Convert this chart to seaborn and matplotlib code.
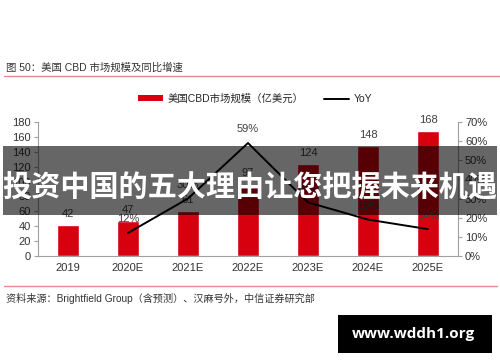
import numpy as np
import pandas as pd
import matplotlib
matplotlib.use("Agg")
import matplotlib.pyplot as plt
from matplotlib.patches import Patch, Rectangle
from matplotlib.lines import Line2D
import seaborn as sns

# data
years = ["2019", "2020E", "2021E", "2022E", "2023E", "2024E", "2025E"]
market_size = [42, 47, 61, 97, 124, 148, 168]        # 亿美元
yoy_years = ["2020E", "2021E", "2022E", "2023E", "2024E", "2025E"]
yoy = [0.12, 0.30, 0.59, 0.28, 0.19, 0.14]

title = "图 50：美国 CBD 市场规模及同比增速"
bar_name = "美国CBD市场规模（亿美元）"
line_name = "YoY"
source = "资料来源：Brightfield Group（含预测）、汉麻号外，中信证券研究部"
banner = "投资中国的五大理由让您把握未来机遇"
watermark = "www.wddh1.org"

sns.set_style("white")
plt.rcParams["font.family"] = ["Liberation Sans", "Noto Sans CJK SC", "DejaVu Sans"]

RED = "#D7000F"
GRAY = "#333333"
SPINE = "#A0A0A0"

df = pd.DataFrame({"year": years, "size": market_size})
df_yoy = pd.DataFrame({"year": yoy_years, "yoy": yoy})
df_yoy["pos"] = [years.index(y) for y in yoy_years]

fig = plt.figure(figsize=(5, 3.62), dpi=100)
ax = fig.add_axes([0.076, 0.293, 0.84, 0.370])

sns.barplot(data=df, x="year", y="size", color=RED, width=0.38,
            saturation=1, ax=ax)
ax.set_ylim(0, 180)
ax.set_yticks(np.arange(0, 181, 20))
ax.set_xlim(-0.5, len(years) - 0.5)
ax.set_xlabel("")
ax.set_ylabel("")
for i, v in enumerate(market_size):
    ax.text(i, v + 8, str(v), ha="center", va="bottom", fontsize=8, color="#404040")

ax2 = ax.twinx()
sns.lineplot(data=df_yoy, x="pos", y="yoy", color="black", linewidth=1.4, ax=ax2)
ax2.set_ylim(0, 0.7)
ax2.set_yticks(np.arange(0, 0.71, 0.1))
ax2.set_yticklabels([f"{int(round(t * 100))}%" for t in np.arange(0, 0.71, 0.1)])
ax2.set_ylabel("")
ax2.set_xlabel("")
ax2.set_xlim(-0.5, len(years) - 0.5)
for p, v in zip(df_yoy["pos"], yoy):
    ax2.text(p, v + 0.045, f"{int(round(v * 100))}%", ha="center", va="bottom",
             fontsize=8, color="#404040")

for a in (ax, ax2):
    a.spines["top"].set_visible(False)
    for s in ("left", "right", "bottom"):
        a.spines[s].set_color(SPINE)
        a.spines[s].set_linewidth(0.8)
ax.spines["right"].set_visible(False)
ax2.spines["left"].set_visible(False)
ax2.spines["bottom"].set_visible(False)

ax.set_xticks(np.arange(-0.5, len(years), 1), minor=True)
ax.tick_params(axis="x", which="major", length=0, labelsize=8, labelcolor=GRAY, pad=5)
ax.tick_params(axis="x", which="minor", length=3, color=SPINE, direction="out")
ax.tick_params(axis="y", length=3, color=SPINE, direction="out", labelsize=8,
               labelcolor=GRAY, left=True, pad=2)
ax2.tick_params(axis="y", length=3, color=SPINE, direction="out", labelsize=8,
                labelcolor=GRAY, right=True, pad=2)

handles = [Patch(facecolor=RED, edgecolor="none"),
           Line2D([], [], color="black", linewidth=1.4)]
fig.legend(handles, [bar_name, line_name], loc="center", ncol=2,
           bbox_to_anchor=(0.51, 0.727), frameon=False, fontsize=7.5,
           handlelength=2.4, handleheight=0.55, columnspacing=2.0, handletextpad=0.4)

# header / footer
fig.text(0.012, 1 - 68 / 362, title, fontsize=7.5, color=GRAY, va="center", ha="left")
fig.add_artist(Line2D([0.008, 1.0], [1 - 76 / 362] * 2, color="#E8898E", linewidth=1.0))
fig.add_artist(Line2D([0.008, 0.994], [1 - 286 / 362] * 2, color="#E8898E", linewidth=1.0))
fig.text(0.012, 1 - 298 / 362, source, fontsize=7.3, color=GRAY, va="center", ha="left")

# overlay banner
fig.add_artist(Rectangle((0.006, 1 - 215 / 362), 0.988, 69 / 362,
                         transform=fig.transFigure, facecolor="black", alpha=0.6,
                         edgecolor="none", zorder=10))
fig.text(0.5, 1 - 187 / 362, banner, fontsize=21, fontweight="bold", color="white",
         ha="center", va="center", zorder=11,
         family=["Noto Sans CJK SC", "DejaVu Sans"])

# watermark box
fig.add_artist(Rectangle((338 / 500, 1 - 353 / 362), 154 / 500, 38 / 362,
                         transform=fig.transFigure, facecolor="black",
                         edgecolor="none", zorder=10))
fig.text(413 / 500, 1 - 334 / 362, watermark, fontsize=11, fontweight="bold",
         color="white", ha="center", va="center", zorder=11,
         family=["Open Sans", "DejaVu Sans"])

fig.savefig("out.png", dpi=100)
